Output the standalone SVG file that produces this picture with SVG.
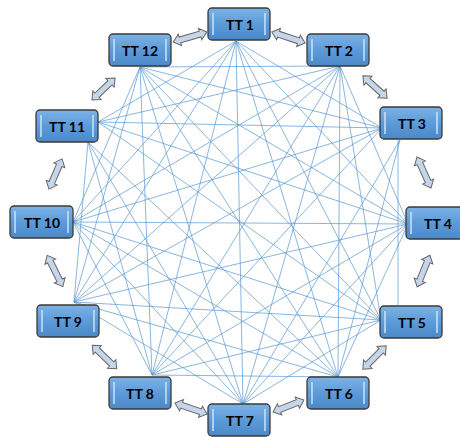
<svg xmlns="http://www.w3.org/2000/svg" width="460" height="437" viewBox="0 0 460 437">
<defs>
<linearGradient id="g" x1="0" y1="0" x2="0" y2="1">
<stop offset="0" stop-color="#7db3e6"/>
<stop offset="0.5" stop-color="#5c9ad8"/>
<stop offset="1" stop-color="#4b88c8"/>
</linearGradient>
<path id="arr" d="M-1,0 L6,-6 L6,-3 L-6,-3 L-6,-6 L1,0 Z"/>
</defs>
<style>
.box{fill:url(#g);stroke:#3a3a3a;stroke-width:1.3}
.hl{stroke:#cfe8fc;stroke-width:1.6;opacity:0.9}
.lbl{font-family:Lato,"Open Sans","Liberation Sans",sans-serif;font-weight:bold;font-size:14px;fill:#000;text-anchor:middle;dominant-baseline:central}
.ln{stroke:#5b9bd5;stroke-width:0.9;opacity:0.8}
.ar{fill:#c6d6ea;stroke:#666;stroke-width:1}
</style>
<rect width="460" height="437" fill="#fff"/>
<g id="connectors">
<line class="ln" x1="236" y1="41" x2="382" y2="128"/>
<line class="ln" x1="236" y1="41" x2="408" y2="224"/>
<line class="ln" x1="236" y1="41" x2="381" y2="320"/>
<line class="ln" x1="236" y1="41" x2="338" y2="377"/>
<line class="ln" x1="236" y1="41" x2="243" y2="404"/>
<line class="ln" x1="236" y1="41" x2="152" y2="375"/>
<line class="ln" x1="236" y1="41" x2="74" y2="302"/>
<line class="ln" x1="236" y1="41" x2="73" y2="222"/>
<line class="ln" x1="236" y1="41" x2="98" y2="122"/>
<line class="ln" x1="340" y1="66" x2="408" y2="224"/>
<line class="ln" x1="340" y1="66" x2="381" y2="320"/>
<line class="ln" x1="340" y1="66" x2="338" y2="377"/>
<line class="ln" x1="340" y1="66" x2="243" y2="404"/>
<line class="ln" x1="340" y1="66" x2="152" y2="375"/>
<line class="ln" x1="340" y1="66" x2="74" y2="302"/>
<line class="ln" x1="340" y1="66" x2="73" y2="222"/>
<line class="ln" x1="340" y1="66" x2="98" y2="122"/>
<line class="ln" x1="340" y1="66" x2="140" y2="67"/>
<line class="ln" x1="398" y1="140" x2="398" y2="306"/>
<line class="ln" x1="400" y1="140" x2="338" y2="377"/>
<line class="ln" x1="400" y1="140" x2="243" y2="404"/>
<line class="ln" x1="382" y1="128" x2="152" y2="375"/>
<line class="ln" x1="382" y1="128" x2="74" y2="302"/>
<line class="ln" x1="382" y1="128" x2="73" y2="222"/>
<line class="ln" x1="382" y1="128" x2="98" y2="122"/>
<line class="ln" x1="382" y1="128" x2="140" y2="67"/>
<line class="ln" x1="408" y1="224" x2="338" y2="377"/>
<line class="ln" x1="408" y1="224" x2="243" y2="404"/>
<line class="ln" x1="408" y1="224" x2="152" y2="375"/>
<line class="ln" x1="408" y1="224" x2="74" y2="302"/>
<line class="ln" x1="408" y1="224" x2="73" y2="222"/>
<line class="ln" x1="408" y1="224" x2="98" y2="122"/>
<line class="ln" x1="408" y1="224" x2="140" y2="67"/>
<line class="ln" x1="381" y1="320" x2="243" y2="404"/>
<line class="ln" x1="381" y1="320" x2="152" y2="375"/>
<line class="ln" x1="381" y1="320" x2="74" y2="302"/>
<line class="ln" x1="381" y1="320" x2="73" y2="222"/>
<line class="ln" x1="381" y1="320" x2="98" y2="122"/>
<line class="ln" x1="381" y1="320" x2="140" y2="67"/>
<line class="ln" x1="338" y1="377" x2="152" y2="375"/>
<line class="ln" x1="338" y1="377" x2="74" y2="302"/>
<line class="ln" x1="338" y1="377" x2="73" y2="222"/>
<line class="ln" x1="338" y1="377" x2="88" y2="142"/>
<line class="ln" x1="338" y1="377" x2="140" y2="67"/>
<line class="ln" x1="243" y1="404" x2="74" y2="302"/>
<line class="ln" x1="243" y1="404" x2="73" y2="222"/>
<line class="ln" x1="243" y1="404" x2="88" y2="142"/>
<line class="ln" x1="243" y1="404" x2="140" y2="67"/>
<line class="ln" x1="152" y1="375" x2="73" y2="222"/>
<line class="ln" x1="152" y1="375" x2="88" y2="142"/>
<line class="ln" x1="152" y1="375" x2="140" y2="67"/>
<line class="ln" x1="74" y1="302" x2="88" y2="142"/>
<line class="ln" x1="74" y1="302" x2="140" y2="67"/>
<line class="ln" x1="73" y1="222" x2="140" y2="67"/>
</g>
<g id="arrows">
<path class="ar" transform="translate(190,37) rotate(-16.4)" d="M-17.5,0 L-10.5,-6 L-10.5,-3 L10.5,-3 L10.5,-6 L17.5,0 L10.5,6 L10.5,3 L-10.5,3 L-10.5,6 Z"/>
<path class="ar" transform="translate(288.5,37.5) rotate(18.4)" d="M-17.5,0 L-10.5,-6 L-10.5,-3 L10.5,-3 L10.5,-6 L17.5,0 L10.5,6 L10.5,3 L-10.5,3 L-10.5,6 Z"/>
<path class="ar" transform="translate(375,87) rotate(42.5)" d="M-16.5,0 L-9.5,-6 L-9.5,-3 L9.5,-3 L9.5,-6 L16.5,0 L9.5,6 L9.5,3 L-9.5,3 L-9.5,6 Z"/>
<path class="ar" transform="translate(424,172.5) rotate(65.7)" d="M-17,0 L-10,-6 L-10,-3 L10,-3 L10,-6 L17,0 L10,6 L10,3 L-10,3 L-10,6 Z"/>
<path class="ar" transform="translate(423.5,271) rotate(112)" d="M-17,0 L-10,-6 L-10,-3 L10,-3 L10,-6 L17,0 L10,6 L10,3 L-10,3 L-10,6 Z"/>
<path class="ar" transform="translate(374.5,357.5) rotate(135)" d="M-16.5,0 L-9.5,-6 L-9.5,-3 L9.5,-3 L9.5,-6 L16.5,0 L9.5,6 L9.5,3 L-9.5,3 L-9.5,6 Z"/>
<path class="ar" transform="translate(288.5,406) rotate(159)" d="M-16.5,0 L-9.5,-6 L-9.5,-3 L9.5,-3 L9.5,-6 L16.5,0 L9.5,6 L9.5,3 L-9.5,3 L-9.5,6 Z"/>
<path class="ar" transform="translate(191,408.5) rotate(19)" d="M-17,0 L-10,-6 L-10,-3 L10,-3 L10,-6 L17,0 L10,6 L10,3 L-10,3 L-10,6 Z"/>
<path class="ar" transform="translate(104.5,357) rotate(44)" d="M-17,0 L-10,-6 L-10,-3 L10,-3 L10,-6 L17,0 L10,6 L10,3 L-10,3 L-10,6 Z"/>
<path class="ar" transform="translate(55,271) rotate(63.4)" d="M-17.5,0 L-10.5,-6 L-10.5,-3 L10.5,-3 L10.5,-6 L17.5,0 L10.5,6 L10.5,3 L-10.5,3 L-10.5,6 Z"/>
<path class="ar" transform="translate(55.5,174) rotate(-66.6)" d="M-16.5,0 L-9.5,-6 L-9.5,-3 L9.5,-3 L9.5,-6 L16.5,0 L9.5,6 L9.5,3 L-9.5,3 L-9.5,6 Z"/>
<path class="ar" transform="translate(103.5,89) rotate(-43.7)" d="M-16,0 L-9,-6 L-9,-3 L9,-3 L9,-6 L16,0 L9,6 L9,3 L-9,3 L-9,6 Z"/>
</g>
<g id="n1"><rect class="box" x="208" y="8" width="62" height="32" rx="4"/><line class="hl" x1="213" y1="13" x2="213" y2="35"/><line class="hl" x1="265" y1="13" x2="265" y2="35"/><text class="lbl" x="240" y="24">TT 1</text></g>
<g id="n2"><rect class="box" x="307" y="34" width="62" height="32" rx="4"/><line class="hl" x1="312" y1="39" x2="312" y2="61"/><line class="hl" x1="364" y1="39" x2="364" y2="61"/><text class="lbl" x="339" y="50">TT 2</text></g>
<g id="n3"><rect class="box" x="380" y="107" width="62" height="32" rx="4"/><line class="hl" x1="385" y1="112" x2="385" y2="134"/><line class="hl" x1="437" y1="112" x2="437" y2="134"/><text class="lbl" x="412" y="123">TT 3</text></g>
<g id="n4"><rect class="box" x="406" y="207" width="62" height="32" rx="4"/><line class="hl" x1="411" y1="212" x2="411" y2="234"/><text class="lbl" x="438" y="223">TT 4</text></g>
<g id="n5"><rect class="box" x="380" y="306" width="62" height="32" rx="4"/><line class="hl" x1="385" y1="311" x2="385" y2="333"/><line class="hl" x1="437" y1="311" x2="437" y2="333"/><text class="lbl" x="412" y="322">TT 5</text></g>
<g id="n6"><rect class="box" x="307" y="377" width="62" height="32" rx="4"/><line class="hl" x1="312" y1="382" x2="312" y2="404"/><line class="hl" x1="364" y1="382" x2="364" y2="404"/><text class="lbl" x="339" y="393">TT 6</text></g>
<g id="n7"><rect class="box" x="208" y="404" width="62" height="32" rx="4"/><line class="hl" x1="213" y1="409" x2="213" y2="431"/><line class="hl" x1="265" y1="409" x2="265" y2="431"/><text class="lbl" x="240" y="420">TT 7</text></g>
<g id="n8"><rect class="box" x="109" y="377" width="62" height="32" rx="4"/><line class="hl" x1="114" y1="382" x2="114" y2="404"/><line class="hl" x1="166" y1="382" x2="166" y2="404"/><text class="lbl" x="140" y="393">TT 8</text></g>
<g id="n9"><rect class="box" x="37" y="305" width="62" height="32" rx="4"/><line class="hl" x1="42" y1="310" x2="42" y2="332"/><line class="hl" x1="94" y1="310" x2="94" y2="332"/><text class="lbl" x="68" y="321">TT 9</text></g>
<g id="n10"><rect class="box" x="10" y="206" width="63" height="32" rx="4"/><line class="hl" x1="15" y1="211" x2="15" y2="233"/><line class="hl" x1="68" y1="211" x2="68" y2="233"/><text class="lbl" x="42" y="222">TT 10</text></g>
<g id="n11"><rect class="box" x="36" y="110" width="62" height="32" rx="4"/><line class="hl" x1="41" y1="115" x2="41" y2="137"/><line class="hl" x1="93" y1="115" x2="93" y2="137"/><text class="lbl" x="67" y="126">TT 11</text></g>
<g id="n12"><rect class="box" x="109" y="34" width="62" height="32" rx="4"/><line class="hl" x1="114" y1="39" x2="114" y2="61"/><line class="hl" x1="166" y1="39" x2="166" y2="61"/><text class="lbl" x="140" y="50">TT 12</text></g>
</svg>
